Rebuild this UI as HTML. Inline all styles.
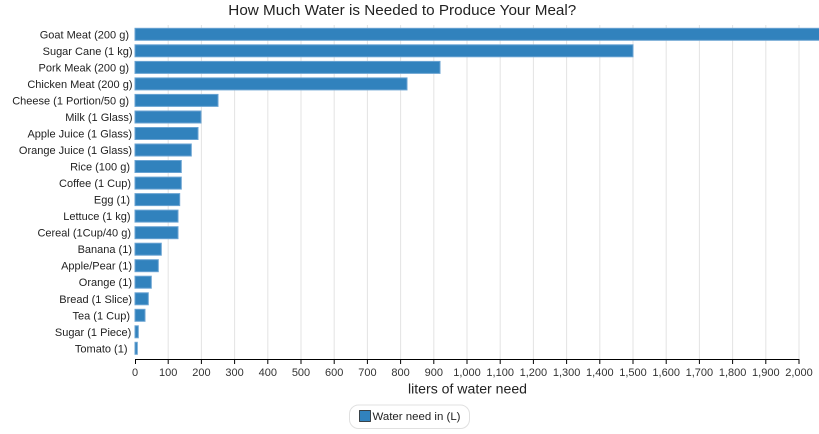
<!DOCTYPE html>
<html><head><meta charset="utf-8"><style>
html,body{margin:0;padding:0;background:#fff;}
svg{display:block;font-family:"Liberation Sans",Arial,sans-serif;}
</style></head><body>
<svg width="819" height="434" viewBox="0 0 819 434" xmlns="http://www.w3.org/2000/svg">
<rect width="819" height="434" fill="#fff"/>
<text x="228.3" y="15" font-size="15" fill="#222" textLength="348" lengthAdjust="spacingAndGlyphs">How Much Water is Needed to Produce Your Meal?</text>
<g stroke="#e3e3e3" stroke-width="1">
<line x1="168.2" y1="25" x2="168.2" y2="359"/><line x1="201.4" y1="25" x2="201.4" y2="359"/><line x1="234.6" y1="25" x2="234.6" y2="359"/><line x1="267.8" y1="25" x2="267.8" y2="359"/><line x1="301" y1="25" x2="301" y2="359"/><line x1="334.2" y1="25" x2="334.2" y2="359"/><line x1="367.4" y1="25" x2="367.4" y2="359"/><line x1="400.6" y1="25" x2="400.6" y2="359"/><line x1="433.8" y1="25" x2="433.8" y2="359"/><line x1="467" y1="25" x2="467" y2="359"/><line x1="500.2" y1="25" x2="500.2" y2="359"/><line x1="533.4" y1="25" x2="533.4" y2="359"/><line x1="566.6" y1="25" x2="566.6" y2="359"/><line x1="599.8" y1="25" x2="599.8" y2="359"/><line x1="633" y1="25" x2="633" y2="359"/><line x1="666.2" y1="25" x2="666.2" y2="359"/><line x1="699.4" y1="25" x2="699.4" y2="359"/><line x1="732.6" y1="25" x2="732.6" y2="359"/><line x1="765.8" y1="25" x2="765.8" y2="359"/><line x1="799" y1="25" x2="799" y2="359"/>
</g>
<g fill="#3182bd" stroke="#6aa3d2" stroke-width="1">
<rect x="135" y="28.3" width="690" height="12"/>
<rect x="135" y="44.8" width="498" height="12"/>
<rect x="135" y="61.4" width="305" height="12"/>
<rect x="135" y="77.9" width="272" height="12"/>
<rect x="135" y="94.4" width="83" height="12"/>
<rect x="135" y="111" width="66" height="12"/>
<rect x="135" y="127.5" width="63" height="12"/>
<rect x="135" y="144" width="56.3" height="12"/>
<rect x="135" y="160.5" width="46.3" height="12"/>
<rect x="135" y="177.1" width="46.3" height="12"/>
<rect x="135" y="193.6" width="44.7" height="12"/>
<rect x="135" y="210.1" width="43" height="12"/>
<rect x="135" y="226.7" width="43" height="12"/>
<rect x="135" y="243.2" width="26.3" height="12"/>
<rect x="135" y="259.7" width="23.3" height="12"/>
<rect x="135" y="276.2" width="16.3" height="12"/>
<rect x="135" y="292.8" width="13.3" height="12"/>
<rect x="135" y="309.3" width="10" height="12"/>
<rect x="135" y="325.8" width="3.3" height="12"/>
<rect x="135" y="342.3" width="2.3" height="12"/>
</g>
<g font-size="11" fill="#222" text-anchor="end">
<text x="129" y="38.3">Goat Meat (200 g)</text>
<text x="132.5" y="54.8">Sugar Cane (1 kg)</text>
<text x="129" y="71.4">Pork Meak (200 g)</text>
<text x="132.5" y="87.9">Chicken Meat (200 g)</text>
<text x="129" y="104.4">Cheese (1 Portion/50 g)</text>
<text x="132.5" y="121">Milk (1 Glass)</text>
<text x="132" y="137.5">Apple Juice (1 Glass)</text>
<text x="132" y="154">Orange Juice (1 Glass)</text>
<text x="130" y="170.5">Rice (100 g)</text>
<text x="131" y="187.1">Coffee (1 Cup)</text>
<text x="130" y="203.6">Egg (1)</text>
<text x="130.5" y="220.1">Lettuce (1 kg)</text>
<text x="131" y="236.7">Cereal (1Cup/40 g)</text>
<text x="132" y="253.2">Banana (1)</text>
<text x="132" y="269.7">Apple/Pear (1)</text>
<text x="132" y="286.2">Orange (1)</text>
<text x="132" y="302.8">Bread (1 Slice)</text>
<text x="130" y="319.3">Tea (1 Cup)</text>
<text x="131.3" y="335.8">Sugar (1 Piece)</text>
<text x="127.5" y="352.3">Tomato (1)</text>
</g>
<line x1="135" y1="359.5" x2="799.5" y2="359.5" stroke="#000" stroke-width="1"/>
<g stroke="#000" stroke-width="1">
<line x1="135.5" y1="359" x2="135.5" y2="364"/><line x1="168.2" y1="359" x2="168.2" y2="364"/><line x1="201.4" y1="359" x2="201.4" y2="364"/><line x1="234.6" y1="359" x2="234.6" y2="364"/><line x1="267.8" y1="359" x2="267.8" y2="364"/><line x1="301" y1="359" x2="301" y2="364"/><line x1="334.2" y1="359" x2="334.2" y2="364"/><line x1="367.4" y1="359" x2="367.4" y2="364"/><line x1="400.6" y1="359" x2="400.6" y2="364"/><line x1="433.8" y1="359" x2="433.8" y2="364"/><line x1="467" y1="359" x2="467" y2="364"/><line x1="500.2" y1="359" x2="500.2" y2="364"/><line x1="533.4" y1="359" x2="533.4" y2="364"/><line x1="566.6" y1="359" x2="566.6" y2="364"/><line x1="599.8" y1="359" x2="599.8" y2="364"/><line x1="633" y1="359" x2="633" y2="364"/><line x1="666.2" y1="359" x2="666.2" y2="364"/><line x1="699.4" y1="359" x2="699.4" y2="364"/><line x1="732.6" y1="359" x2="732.6" y2="364"/><line x1="765.8" y1="359" x2="765.8" y2="364"/><line x1="799" y1="359" x2="799" y2="364"/>
</g>
<g font-size="11" fill="#333" text-anchor="middle">
<text x="135" y="376">0</text><text x="168.2" y="376">100</text><text x="201.4" y="376">200</text><text x="234.6" y="376">300</text><text x="267.8" y="376">400</text><text x="301" y="376">500</text><text x="334.2" y="376">600</text><text x="367.4" y="376">700</text><text x="400.6" y="376">800</text><text x="433.8" y="376">900</text><text x="467" y="376">1,000</text><text x="500.2" y="376">1,100</text><text x="533.4" y="376">1,200</text><text x="566.6" y="376">1,300</text><text x="599.8" y="376">1,400</text><text x="633" y="376">1,500</text><text x="666.2" y="376">1,600</text><text x="699.4" y="376">1,700</text><text x="732.6" y="376">1,800</text><text x="765.8" y="376">1,900</text><text x="799" y="376">2,000</text>
</g>
<text x="408" y="393.3" font-size="13.5" fill="#222" textLength="119" lengthAdjust="spacingAndGlyphs">liters of water need</text>
<rect x="349.5" y="405" width="120" height="23.5" rx="9" ry="9" fill="#fff" stroke="#e0e0e0" stroke-width="1"/>
<rect x="359.5" y="410.5" width="11" height="11" fill="#3182bd" stroke="#222" stroke-width="0.8"/>
<text x="372.5" y="420" font-size="11" fill="#222" textLength="88" lengthAdjust="spacingAndGlyphs">Water need in (L)</text>
</svg>
</body></html>
